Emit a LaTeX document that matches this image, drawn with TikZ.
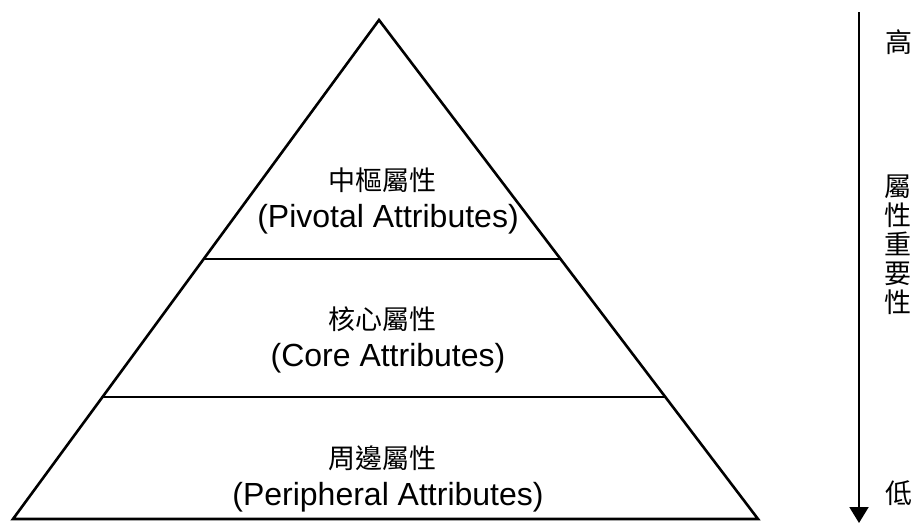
\documentclass[tikz,border=0pt]{standalone}
\usepackage{fontspec}
\setmainfont{Liberation Sans}
\newfontfamily\cjk{Noto Sans CJK TC}
\usetikzlibrary{calc,arrows.meta}
\begin{document}
\begin{tikzpicture}[x=1pt,y=-1pt,
  edge/.style={line width=2.6pt,line join=miter},
  zh/.style={font=\cjk\fontsize{27}{30}\selectfont,inner sep=0pt},
  en/.style={font=\fontsize{32}{36}\selectfont,inner sep=0pt},
  axis/.style={line width=2pt,-{Triangle[length=16pt,width=19pt]}}]
\useasboundingbox (0,0) rectangle (918,523);
% pyramid outline and tiers
\coordinate (apex) at (379,20);
\coordinate (bl) at (13,519);
\coordinate (br) at (758,519);
\draw[edge] (bl) -- (apex) -- (br) -- cycle;
\coordinate (t1l) at ($(apex)!0.479!(bl)$);
\coordinate (t1r) at ($(apex)!0.479!(br)$);
\coordinate (t2l) at ($(apex)!0.7555!(bl)$);
\coordinate (t2r) at ($(apex)!0.7555!(br)$);
\draw[edge] (t1l) -- (t1r);
\draw[edge] (t2l) -- (t2r);
% tier labels
\node[zh] (pz) at (382,180) {中樞屬性};
\node[en] (pe) at (388,219) {(Pivotal Attributes)};
\node[zh] (cz) at (382,319) {核心屬性};
\node[en] (ce) at (388,358) {(Core Attributes)};
\node[zh] (rz) at (382,458) {周邊屬性};
\node[en] (re) at (388,497) {(Peripheral Attributes)};
% importance scale
\coordinate (top) at (859,12);
\coordinate (bot) at (859,523);
\draw[axis] (top) -- (bot);
\node[zh] (hi) at (899,42) {高};
\node[zh] (lo) at (899,493) {低};
\node[zh,align=center] (imp) at (898,245) {屬\\[-1pt]性\\[-1pt]重\\[-1pt]要\\[-1pt]性};
\end{tikzpicture}
\end{document}
